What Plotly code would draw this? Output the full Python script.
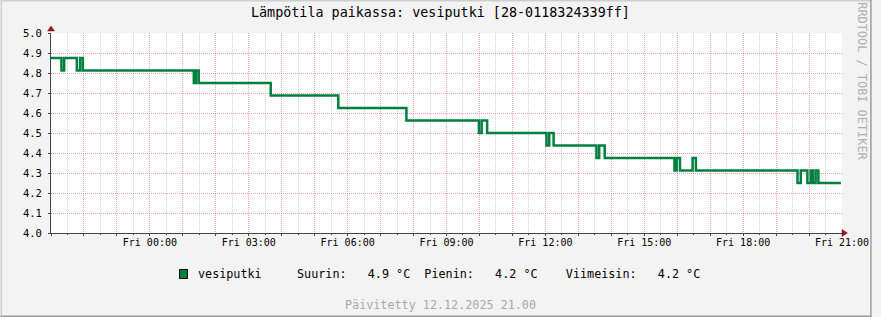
import plotly.graph_objects as go

# ---------------- data ----------------
range_start = "2025-12-11 21:00"
range_end = "2025-12-12 21:00"

# times where the temperature reading changes (step data)
change_times = [
    "2025-12-11 21:00", "2025-12-11 21:19", "2025-12-11 21:24", "2025-12-11 21:47",
    "2025-12-11 21:53", "2025-12-11 21:58",
    "2025-12-12 01:20", "2025-12-12 01:24", "2025-12-12 01:29",
    "2025-12-12 03:40", "2025-12-12 05:43", "2025-12-12 07:47",
    "2025-12-12 09:59", "2025-12-12 10:04", "2025-12-12 10:14",
    "2025-12-12 12:02", "2025-12-12 12:07", "2025-12-12 12:15",
    "2025-12-12 13:33", "2025-12-12 13:38", "2025-12-12 13:48",
    "2025-12-12 15:55", "2025-12-12 15:59", "2025-12-12 16:05",
    "2025-12-12 16:28", "2025-12-12 16:34",
    "2025-12-12 19:39", "2025-12-12 19:45", "2025-12-12 19:57",
    "2025-12-12 20:03", "2025-12-12 20:07", "2025-12-12 20:12",
    "2025-12-12 20:17", "2025-12-12 20:58",
]
temps = [
    4.875, 4.8125, 4.875, 4.8125,
    4.875, 4.8125,
    4.75, 4.8125, 4.75,
    4.6875, 4.625, 4.5625,
    4.5, 4.5625, 4.5,
    4.4375, 4.5, 4.4375,
    4.375, 4.4375, 4.375,
    4.3125, 4.375, 4.3125,
    4.375, 4.3125,
    4.25, 4.3125, 4.25,
    4.3125, 4.25, 4.3125,
    4.25, 4.25,
]
label_times = [
    "2025-12-12 00:00", "2025-12-12 03:00", "2025-12-12 06:00", "2025-12-12 09:00",
    "2025-12-12 12:00", "2025-12-12 15:00", "2025-12-12 18:00", "2025-12-12 21:00",
]
series_name = "vesiputki"
title_text = "Lämpötila paikassa: vesiputki [28-0118324339ff]"
updated_text = "Päivitetty 12.12.2025 21.00"
watermark = "RRDTOOL / TOBI OETIKER"

# ---------------- layout geometry ----------------
W, H = 881, 317
L, R, T, B = 51, 30, 33, 84
PW, PH = W - L - R, H - T - B
MONO = "DejaVu Sans Mono"
GREEN = "#00803f"
MGRID = "rgba(215,90,90,0.55)"
MINGRID = "rgba(150,150,150,0.45)"
AXIS = "#444444"
ARROW = "#8b1a1a"


def px(x):
    return (x - L) / PW


def py(y):
    return (H - B - y) / PH


def nb(s):
    return s.replace(" ", "\u00a0")


fig = go.Figure()
fig.add_trace(go.Scatter(
    x=change_times, y=temps, mode="lines", line=dict(color=GREEN, width=2.5, shape="hv"),
    name=series_name, showlegend=False, hoverinfo="x+y",
))
# invisible trace carrying the label axis
fig.add_trace(go.Scatter(
    x=[range_start, range_end], y=[None, None], xaxis="x2", mode="lines",
    showlegend=False, hoverinfo="skip",
))

fig.update_layout(
    width=W, height=H,
    margin=dict(l=L, r=R, t=T, b=B, pad=0),
    paper_bgcolor="#f3f3f3", plot_bgcolor="#ffffff",
    font=dict(family=MONO, size=10, color="#000000"),
    xaxis=dict(
        type="date", range=[range_start, range_end],
        tick0=range_start, dtick=3600000,
        showticklabels=False, ticks="outside", ticklen=2, tickcolor=AXIS,
        showgrid=True, gridcolor=MGRID, griddash="1px,1px", gridwidth=1,
        minor=dict(dtick=1800000, tick0=range_start, showgrid=True, gridcolor=MINGRID,
                   griddash="1px,1px", ticks="outside", ticklen=1, tickcolor=AXIS),
        showline=True, linecolor=AXIS, linewidth=1, zeroline=False,
        fixedrange=True,
    ),
    xaxis2=dict(
        type="date", range=[range_start, range_end], overlaying="x", anchor="y",
        side="bottom", tickvals=label_times, tickformat="%a %H:%M",
        ticks="", showgrid=False, showline=False, zeroline=False,
        tickfont=dict(family=MONO, size=10, color="#000000"),
        ticklabelstandoff=2,
    ),
    yaxis=dict(
        range=[4.0, 5.0], tick0=4.0, dtick=0.1, tickformat=".1f",
        ticks="outside", ticklen=2, tickcolor=AXIS,
        showgrid=True, gridcolor=MGRID, griddash="1px,1px", gridwidth=1,
        showline=True, linecolor=AXIS, linewidth=1, zeroline=False,
        tickfont=dict(family=MONO, size=10.5, color="#000000"),
        ticklabelstandoff=4,
    ),
)

mx, mn, last = max(temps), min(temps), temps[-1]
legend_line = (f"{series_name}     Suurin:  {mx:4.1f} °C  Pienin:  {mn:4.1f} °C"
               f"    Viimeisin:  {last:4.1f} °C")

ann = [
    dict(text=nb(title_text), x=px(445), y=py(13), xanchor="center", yanchor="middle",
         font=dict(family=MONO, size=13.4, color="#000000")),
    dict(text=nb(legend_line), x=px(197.5), y=py(274), xanchor="left", yanchor="middle",
         font=dict(family=MONO, size=11.75, color="#000000")),
    dict(text=nb(updated_text), x=px(444.5), y=py(305), xanchor="center", yanchor="middle",
         font=dict(family=MONO, size=11.75, color="#a8a8a8")),
    dict(text=nb(watermark), x=px(871), y=py(81), xanchor="center", yanchor="middle",
         textangle=90, font=dict(family=MONO, size=11.9, color="#b0b0b0")),
]
for a in ann:
    a.update(xref="paper", yref="paper", showarrow=False)
fig.update_layout(annotations=ann)


def tri(points, color):
    path = "M " + " L ".join(f"{px(a)},{py(b)}" for a, b in points) + " Z"
    return dict(type="path", xref="paper", yref="paper", path=path,
                fillcolor=color, line=dict(color=color, width=0.5), layer="above")


shapes = [
    # axis arrows
    tri([(47.5, 31), (54.5, 31), (51, 26)], ARROW),
    tri([(851, 229.5), (851, 236.5), (856.5, 233)], ARROW),
    # legend colour box
    dict(type="rect", xref="paper", yref="paper", x0=px(181), x1=px(189), y0=py(269.5), y1=py(278.5),
         fillcolor=GREEN, line=dict(color="#000000", width=1), layer="above"),
    # image border (shade)
    dict(type="line", xref="paper", yref="paper", x0=px(0), x1=px(W), y0=py(0.75), y1=py(0.75),
         line=dict(color="#cfcfcf", width=1.5)),
    dict(type="line", xref="paper", yref="paper", x0=px(0.75), x1=px(0.75), y0=py(0), y1=py(H),
         line=dict(color="#cfcfcf", width=1.5)),
    dict(type="line", xref="paper", yref="paper", x0=px(0), x1=px(W), y0=py(H - 0.75), y1=py(H - 0.75),
         line=dict(color="#9e9e9e", width=1.5)),
    dict(type="line", xref="paper", yref="paper", x0=px(W - 0.75), x1=px(W - 0.75), y0=py(0), y1=py(H),
         line=dict(color="#9e9e9e", width=1.5)),
]
fig.update_layout(shapes=shapes)

fig.write_html("out.html", config={"displayModeBar": False})
